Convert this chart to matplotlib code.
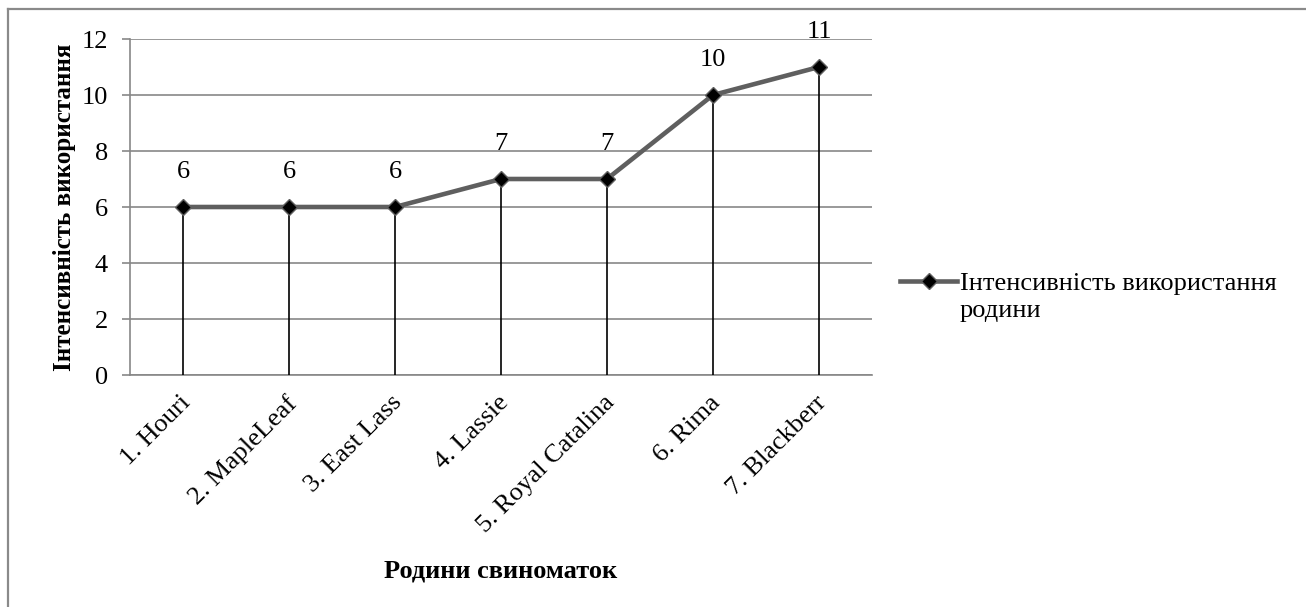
import matplotlib
matplotlib.use("Agg")
import matplotlib.pyplot as plt
from matplotlib.lines import Line2D
from matplotlib.transforms import ScaledTranslation

categories = ["1. Houri", "2. MapleLeaf", "3. East Lass", "4. Lassie",
              "5. Royal Catalina", "6. Rima", "7. Blackberr"]
values = [6, 6, 6, 7, 7, 10, 11]
yticks = [0, 2, 4, 6, 8, 10, 12]
series_name = "Інтенсивність використання\nродини"
ylabel = "Інтенсивність використання"
xlabel = "Родини свиноматок"

plt.rcParams['font.family'] = ['Liberation Serif', 'DejaVu Serif']

W, H = 1306, 607
fig = plt.figure(figsize=(W / 100, H / 100), dpi=100)
ax = fig.add_axes([130 / W, 1 - 375 / H, (872 - 130) / W, (375 - 39) / H])

grid_c = '#878787'
line_c = '#5f5f5f'
fs = 19
x = list(range(len(categories)))

ax.set_xlim(-0.5, len(categories) - 0.5)
ax.set_ylim(0, 12)
ax.set_yticks(yticks)
ax.yaxis.grid(True, color=grid_c, lw=1.2)
ax.set_axisbelow(True)
for s in ['top', 'right']:
    ax.spines[s].set_visible(False)
for s in ['left', 'bottom']:
    ax.spines[s].set_color(grid_c)
    ax.spines[s].set_linewidth(1.2)
ax.tick_params(axis='y', length=6, width=1.2, color=grid_c, labelsize=fs, pad=10)
ax.tick_params(axis='x', length=0, labelsize=fs, pad=12)
ax.set_xticks(x)
ax.set_xticklabels(categories, rotation=45, ha='right', rotation_mode='anchor')
off = ScaledTranslation(-4 / 100, 0, fig.dpi_scale_trans)
for lab in ax.get_xticklabels():
    lab.set_transform(lab.get_transform() + off)

ax.vlines(x, 0, values, color='black', lw=1.2, zorder=3)
ax.plot(x, values, color=line_c, lw=3.3, marker='D', markersize=8.5,
        markerfacecolor='black', markeredgecolor=line_c, markeredgewidth=1, zorder=4,
        clip_on=False)
for xi, v in zip(x, values):
    ax.annotate(str(v), (xi, v), xytext=(0, 25), textcoords='offset points',
                ha='center', va='center', fontsize=fs)

ax.set_ylabel(ylabel, fontsize=18, fontweight='bold', labelpad=4)
ax.set_xlabel(xlabel, fontsize=fs, fontweight='bold', labelpad=16)

# legend (handle aligned with first text line, as in the reference)
ly = 1 - 281 / H
fig.add_artist(Line2D([900 / W, 957 / W], [ly, ly], color=line_c, lw=3.3,
                      transform=fig.transFigure))
fig.add_artist(Line2D([928.5 / W], [ly], marker='D', markersize=8.5,
                      markerfacecolor='black', markeredgecolor=line_c,
                      markeredgewidth=1, linestyle='none', transform=fig.transFigure))
fig.text(960 / W, 1 - 273 / H, series_name, fontsize=fs, ha='left', va='top',
         linespacing=1.32)

# chart border (top and left visible)
fig.add_artist(Line2D([8 / W, 8 / W], [0, 1 - 9 / H], color='#8a8a8a', lw=1.6,
                      transform=fig.transFigure))
fig.add_artist(Line2D([8 / W, 1], [1 - 9 / H, 1 - 9 / H], color='#8a8a8a', lw=1.6,
                      transform=fig.transFigure))

fig.savefig("out.png", dpi=100)
